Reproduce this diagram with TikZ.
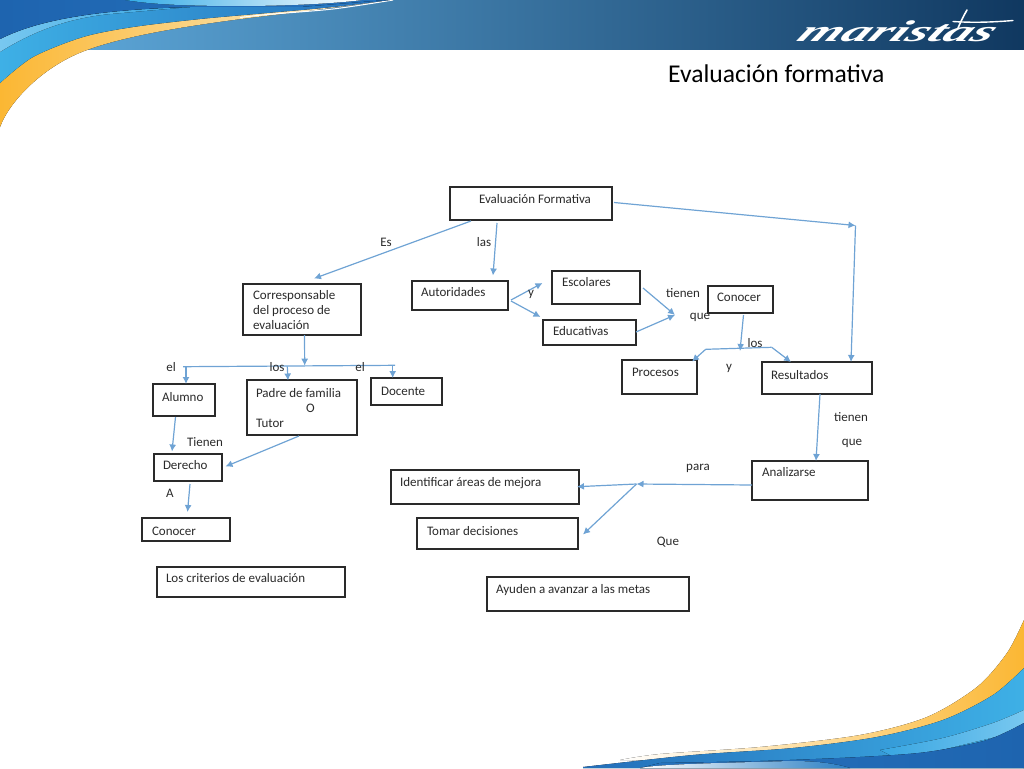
\documentclass[tikz,border=0pt]{standalone}
\usepackage{fontspec}
\setmainfont{Carlito}
\newfontfamily\logofont{Liberation Serif}
\usetikzlibrary{arrows.meta,calc}
\definecolor{linkblue}{HTML}{6FA3D4}
\definecolor{inkc}{HTML}{2A2A2A}
\definecolor{orangew}{HTML}{FBB733}
\tikzset{
  boxn/.style={draw=inkc,line width=1.2pt,fill=white,inner sep=0pt,outer sep=0pt,anchor=north west,text=inkc},
  labn/.style={inner sep=0pt,text=inkc,font=\fontsize{13}{15}\selectfont},
  link/.style={draw=linkblue,line width=1.2pt,-{Latex[length=7pt,width=7pt]}},
  plainlink/.style={draw=linkblue,line width=1.2pt},
}
% name, x, y, w, h, left pad, top pad, text
\newcommand{\bxnode}[8]{\node[boxn] (#1) at (#2,#3) {\parbox[c][#5pt][t]{#4pt}{\fontsize{13}{15}\selectfont\raggedright\leftskip=#6pt\relax\vspace*{\dimexpr#7pt+1.7pt\relax}\strut #8\strut}};}
\begin{document}
\begin{tikzpicture}[x=1pt,y=-1pt]
\useasboundingbox (0,0) rectangle (1024,768);
% header band
\fill[left color={rgb,255:red,98;green,174;blue,224},middle color={rgb,255:red,74;green,147;blue,194},right color={rgb,255:red,16;green,56;blue,96}] (0,0) rectangle (1024,50);
% top-left waves
\fill[left color=orangew,middle color={rgb,255:red,250;green,200;blue,100},right color={rgb,255:red,250;green,240;blue,215}]
  (0,127) .. controls (10,100) and (45,65) .. (87,50) .. controls (125,36) and (190,24) .. (300,12) -- (393,0) -- (0,0) -- cycle;
\draw[white,line width=1pt] plot[smooth] coordinates {(240,17.5) (267,14.5) (333,9) (393,0)};
\fill[left color={rgb,255:red,62;green,176;blue,230},right color={rgb,255:red,36;green,110;blue,185}] plot[smooth] coordinates {(0,83) (33,57) (83,37) (133,27) (200,19) (267,13) (333,7) (390,0)} -- (0,0) -- cycle;
\fill[left color={rgb,255:red,120;green,200;blue,240},right color={rgb,255:red,55;green,165;blue,225}] (0,39) .. controls (30,24) and (80,10) .. (190,7) -- (110,14) .. controls (70,18) and (35,30) .. (0,52) -- cycle;
\fill[left color={rgb,255:red,30;green,100;blue,175},right color={rgb,255:red,38;green,115;blue,190}] (0,39) .. controls (30,24) and (80,10) .. (190,7) -- (300,7) -- (385,0) -- (0,0) -- cycle;
\fill[left color={rgb,255:red,50;green,170;blue,230},middle color={rgb,255:red,170;green,225;blue,248},right color=white] (125,0) .. controls (150,4) and (180,6) .. (240,6) .. controls (290,6) and (340,3) .. (362,0) -- cycle;
% bottom-right waves
\fill[left color=white,right color=orangew] plot[smooth] coordinates {(1024,620) (1007,653) (977,687) (927,717) (860,735) (760,747) (660,754) (620,760)} -- (1024,768) -- cycle;
\fill[left color={rgb,255:red,36;green,110;blue,185},right color={rgb,255:red,62;green,176;blue,230}] plot[smooth] coordinates {(1024,668) (993,695) (943,720) (877,737) (793,748) (693,755) (583,767)} -- (583,768) -- (1024,768) -- cycle;
\fill[right color={rgb,255:red,120;green,200;blue,240},left color={rgb,255:red,55;green,165;blue,225}] plot[smooth] coordinates {(1024,710) (993,723) (943,738) (880,750)} -- (900,760) -- (1024,730) -- cycle;
\fill[left color={rgb,255:red,38;green,115;blue,190},right color={rgb,255:red,30;green,100;blue,175}] plot[smooth] coordinates {(1024,723) (987,740) (927,752) (860,757) (760,761) (660,763)} -- (640,768) -- (1024,768) -- cycle;
\fill[left color=white,middle color={rgb,255:red,150;green,215;blue,245},right color={rgb,255:red,40;green,125;blue,195}] (640,768) .. controls (660,764) and (720,763) .. (790,761) .. controls (810,761) and (830,762) .. (850,768) -- cycle;
% logo and title
\node[white,inner sep=0pt,xscale=1.85,xslant=0.35,font=\logofont\itshape\bfseries\fontsize{30}{30}\selectfont] (logo) at (899,31) {maristas};
\draw[white,line width=1.4pt,line cap=round] (953,21.5) .. controls (975,23) and (995,22) .. (1013,20.5);
\draw[white,line width=1.6pt,line cap=round] (967,10) .. controls (964,15) and (961,21) .. (958,28);
\node[inner sep=0pt,text=black,font=\fontsize{25.6}{28}\selectfont,anchor=base west] (title) at (668,82) {Evaluación formativa};
% boxes
\bxnode{ef}{450}{187}{162}{33}{29}{4.5}{Evaluación Formativa}
\bxnode{cor}{243}{284}{118}{51}{10}{3.5}{Corresponsable\\del proceso de\\evaluación}
\bxnode{aut}{412}{281}{96}{29}{9}{3.5}{Autoridades}
\bxnode{esc}{552}{271}{88}{33}{10}{3.5}{Escolares}
\bxnode{edu}{543}{320}{93}{25}{10}{3.5}{Educativas}
\bxnode{con}{708}{286}{65}{27}{9}{3.5}{Conocer}
\bxnode{pro}{622}{360}{75}{34}{10}{4.5}{Procesos}
\bxnode{res}{762}{362}{110}{32}{9}{5.5}{Resultados}
\bxnode{alu}{153}{384}{62}{32}{9}{5.5}{Alumno}
\bxnode{pad}{247}{380}{110}{55}{9}{5.5}{Padre de familia\\\hspace*{50pt}O\\Tutor}
\bxnode{doc}{371}{378}{71}{27}{10}{5.5}{Docente}
\bxnode{der}{154}{454}{68}{27}{9}{3.5}{Derecho}
\bxnode{cod}{142}{518}{88}{23}{10}{5.5}{Conocer}
\bxnode{cri}{157}{567}{188}{30}{9}{3.5}{Los criterios de evaluación}
\bxnode{ide}{391}{470}{188}{34}{9}{4.5}{Identificar áreas de mejora}
\bxnode{tom}{417}{518}{161}{31}{10}{5.5}{Tomar decisiones}
\bxnode{ana}{752}{461}{116}{39}{10}{3.5}{Analizarse}
\bxnode{ayu}{487}{577}{202}{34}{9}{4.5}{Ayuden a avanzar a las metas}
% junctions
\coordinate (jright) at (855.5,225.5);
\coordinate (jt) at (675,315);
\coordinate (jcon) at (740,351);
\coordinate (jcl) at (705.7,349.3);
\coordinate (jcr) at (771.7,347.3);
\coordinate (jl) at (183,366.7);
\coordinate (jr) at (395,365.3);
\coordinate (jm) at (304.7,365.7);
\coordinate (ja) at (186,367);
\coordinate (jp) at (287.3,366.4);
\coordinate (jd) at (392.7,365.3);
\coordinate (jan) at (636.5,484);
% connectors
\draw[link] ($(ef.north east)+(2,15.5)$) -- (jright);
\draw[link] (jright) -- ($(res.north west)+(89,0)$);
\draw[link] ($(ef.south west)+(21,1)$) -- ($(cor.north west)+(71,-5.5)$);
\draw[link] ($(ef.south west)+(47,3)$) -- ($(aut.north west)+(81,-5.5)$);
\draw[link] ($(aut.east)+(3,4.5)$) -- ($(esc.west)+(-9.5,-4.5)$);
\draw[link] ($(aut.east)+(3,5.5)$) -- ($(edu.west)+(-2.5,-15.5)$);
\draw[link] ($(esc.east)+(3,0.5)$) -- (jt);
\draw[link] ($(edu.east)+(0,-0.5)$) -- (jt);
\draw[link] ($(con.south)+(3,2)$) -- (jcon);
\draw[plainlink] (jcl) -- (jcr);
\draw[link] (jcl) -- ($(pro.north east)+(-5,1.5)$);
\draw[link] (jcr) -- ($(res.north west)+(29,0)$);
\draw[link] ($(cor.south)+(2.5,0)$) -- (jm);
\draw[plainlink] (jl) -- (jr);
\draw[link] (ja) -- (alu.north-|ja);
\draw[link] (jp) -- ($(pad.north west)+(41,0.5)$);
\draw[link] (jd) -- (doc.north-|jd);
\draw[link] ($(alu.south west)+(22.5,1)$) -- ($(der.north west)+(18,-2.5)$);
\draw[link] ($(pad.south west)+(52,1)$) -- ($(der.east)+(3.5,-1)$);
\draw[link] ($(der.south west)+(36,3)$) -- ($(cod.north west)+(45.5,-6)$);
\draw[link] ($(res.south west)+(58,0)$) -- (ana.north-|816,0);
\draw[link] ($(ana.west)+(0,4.5)$) -- (jan);
\draw[link] (jan) -- ($(ide.east)+(-2,-0.3)$);
\draw[link] (jan) -- ($(tom.east)+(5,1)$);
% labels
\node[labn] (l1) at (386,242.5) {Es};
\node[labn] (l2) at (484,242.5) {las};
\node[labn] (l3) at (531,294.5) {y};
\node[labn] (l4) at (683,293.5) {tienen};
\node[labn] (l5) at (700,317.5) {que};
\node[labn] (l6) at (755,343.5) {los};
\node[labn] (l7) at (729,368) {y};
\node[labn] (l8) at (851,417.5) {tienen};
\node[labn] (l9) at (852,443) {que};
\node[labn] (l10) at (171,367.5) {el};
\node[labn] (l11) at (277,367.5) {los};
\node[labn] (l12) at (360,367.5) {el};
\node[labn] (l13) at (205,442.5) {Tienen};
\node[labn] (l14) at (170,493.5) {A};
\node[labn] (l15) at (698,468) {para};
\node[labn] (l16) at (668,542.5) {Que};
\end{tikzpicture}
\end{document}
